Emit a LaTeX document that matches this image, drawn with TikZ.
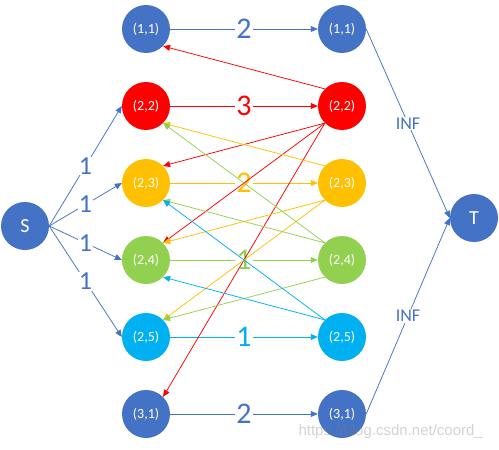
\documentclass[tikz,border=0pt]{standalone}
\usepackage{fontspec}
\setmainfont{Carlito}
\newfontfamily\wmfont{Liberation Sans}
\usetikzlibrary{arrows.meta}
\definecolor{cblue}{HTML}{4472C4}
\definecolor{cred}{HTML}{FF0000}
\definecolor{corange}{HTML}{FFC000}
\definecolor{cgreen}{HTML}{92D050}
\definecolor{ccyan}{HTML}{00B0F0}
\begin{document}
\begin{tikzpicture}[x=1pt,y=-1pt,
  vert/.style={circle,minimum size=48pt,inner sep=0pt,text=white,font=\fontsize{14}{14}\selectfont},
  big/.style={circle,minimum size=48pt,inner sep=0pt,text=white,font=\fontsize{20}{20}\selectfont},
  edge/.style={line width=0.75pt,-{Triangle[length=7pt,width=6pt]}},
  wlab/.style={fill=white,inner sep=1pt,font=\fontsize{30}{30}\selectfont},
  slab/.style={fill=white,inner sep=1pt,font=\fontsize{26}{26}\selectfont,text=cblue},
  ilab/.style={fill=white,inner sep=1pt,font=\fontsize{18}{18}\selectfont,text=cblue}]
\useasboundingbox (0,0) rectangle (499,450);
% nodes
\node[big,fill=cblue] (S) at (25,226) {S};
\node[big,fill=cblue] (T) at (474,218) {T};
\node[vert,fill=cblue]   (L11) at (146,29)  {(1,1)};
\node[vert,fill=cred]    (L22) at (146,106) {(2,2)};
\node[vert,fill=corange] (L23) at (146,183) {(2,3)};
\node[vert,fill=cgreen]  (L24) at (146,260) {(2,4)};
\node[vert,fill=ccyan]   (L25) at (146,337) {(2,5)};
\node[vert,fill=cblue]   (L31) at (146,414) {(3,1)};
\node[vert,fill=cblue]   (R11) at (342,29)  {(1,1)};
\node[vert,fill=cred]    (R22) at (342,106) {(2,2)};
\node[vert,fill=corange] (R23) at (342,183) {(2,3)};
\node[vert,fill=cgreen]  (R24) at (342,260) {(2,4)};
\node[vert,fill=ccyan]   (R25) at (342,337) {(2,5)};
\node[vert,fill=cblue]   (R31) at (342,414) {(3,1)};
% source edges
\draw[edge,cblue] (S.east) -- node[slab] {1} (L22.west);
\draw[edge,cblue] (S.east) -- node[slab] {1} (L23.west);
\draw[edge,cblue] (S.east) -- node[slab] {1} (L24.west);
\draw[edge,cblue] (S.east) -- node[slab] {1} (L25.west);
% sink edges
\draw[edge,cblue] (R11.east) -- node[ilab] {INF} (T.west);
\draw[edge,cblue] (R31.east) -- node[ilab] {INF} (T.west);
% horizontal edges
\draw[edge,cblue]   (L11.east) -- node[wlab,text=cblue] {2} (R11.west);
\draw[edge,cred]    (L22.east) -- node[wlab,text=cred] {3} (R22.west);
\draw[edge,corange] (L23.east) -- node[wlab,text=corange] {2} (R23.west);
\draw[edge,cgreen]  (L24.east) -- node[wlab,text=cgreen] {1} (R24.west);
\draw[edge,ccyan]   (L25.east) -- node[wlab,text=ccyan] {1} (R25.west);
\draw[edge,cblue]   (L31.east) -- node[wlab,text=cblue] {2} (R31.west);
% cross edges
\draw[edge,cred] (R22.north west) -- (L11.south east);
\draw[edge,cred] (R22.south west) -- (L23.north east);
\draw[edge,cred] (R22.south west) -- (L24.north east);
\draw[edge,cred] (R22.south west) -- (L31.north east);
\draw[edge,corange] (R23.north west) -- (L22.south east);
\draw[edge,corange] (R23.south west) -- (L24.north east);
\draw[edge,corange] (R23.south west) -- (L25.north east);
\draw[edge,cgreen] (R24.north west) -- (L22.south east);
\draw[edge,cgreen] (R24.north west) -- (L23.south east);
\draw[edge,cgreen] (R24.south west) -- (L25.north east);
\draw[edge,ccyan] (R25.north west) -- (L23.south east);
\draw[edge,ccyan] (R25.north west) -- (L24.south east);
% watermark
\node[anchor=west,text=gray,text opacity=0.35,font=\wmfont\fontsize{15}{15}\selectfont] (wm) at (295,432) {https://blog.csdn.net/coord\_};
\end{tikzpicture}
\end{document}
